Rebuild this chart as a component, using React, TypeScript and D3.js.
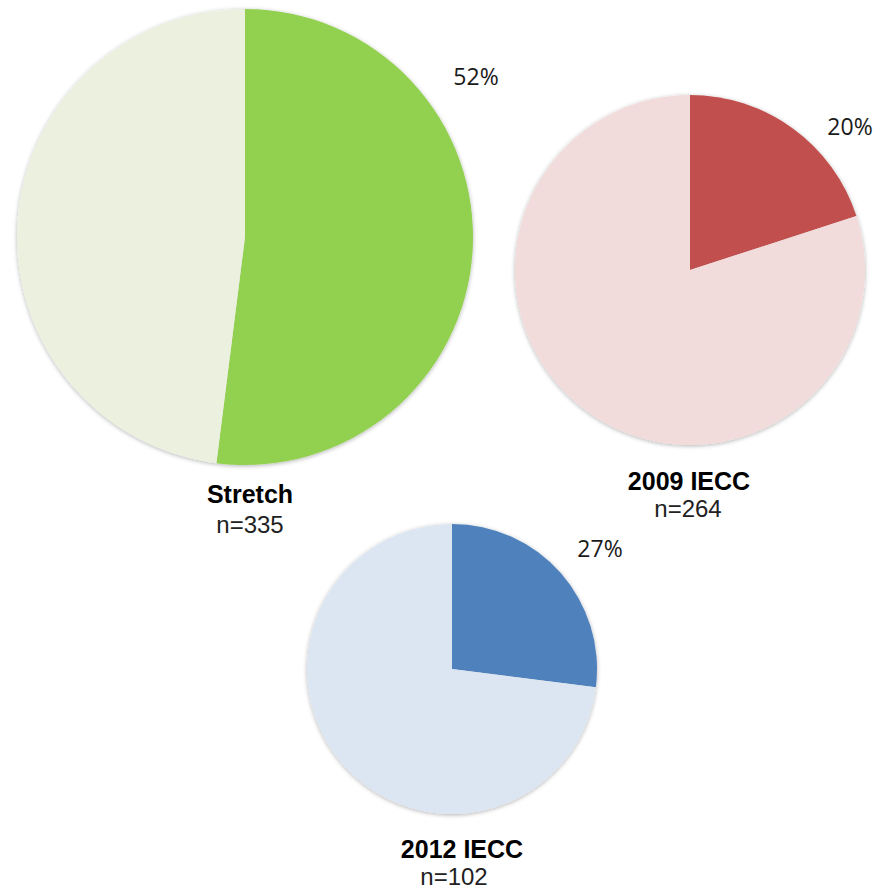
import React from "react";
import * as d3 from "d3";

const pieNames = ["Stretch", "2009 IECC", "2012 IECC"];
const pieCounts = ["n=335", "n=264", "n=102"];
const highlightShares = [52, 20, 27];
const highlightColors = ["#92d050", "#c0504d", "#4f81bd"];
const baseColors = ["#ebf1de", "#f2dcdb", "#dce6f2"];

// layout (not data)
const centers = [
  { cx: 245, cy: 237, r: 228, pct: [476, 85], title: [250, 503], n: [250, 533] },
  { cx: 690, cy: 270, r: 175, pct: [850, 135], title: [689, 490], n: [688, 517] },
  { cx: 452, cy: 669, r: 145, pct: [600, 557], title: [462, 858], n: [454, 885] },
];

export default function App() {
  const pie = d3.pie<number>().sort(null).value((d) => d);
  return (
    <svg
      width={880}
      height={891}
      style={{ position: "absolute", left: 0, top: 0, background: "#fff" }}
    >
      <defs>
        <filter id="sh" x="-10%" y="-10%" width="120%" height="120%">
          <feDropShadow dx="0" dy="1" stdDeviation="2" floodColor="#000" floodOpacity="0.3" />
        </filter>
      </defs>
      {pieNames.map((name, i) => {
        const c = centers[i];
        const vals = [highlightShares[i], 100 - highlightShares[i]];
        const arcs = pie(vals);
        const arc = d3.arc<d3.PieArcDatum<number>>().innerRadius(0).outerRadius(c.r);
        const cols = [highlightColors[i], baseColors[i]];
        return (
          <g key={name}>
            <g transform={`translate(${c.cx},${c.cy})`} filter="url(#sh)">
              {arcs.map((a, j) => (
                <path key={j} d={arc(a) || ""} fill={cols[j]} />
              ))}
            </g>
            <text
              x={c.pct[0]}
              y={c.pct[1]}
              textAnchor="middle"
              fontFamily="'Open Sans', 'Liberation Sans', sans-serif"
              fontSize={23}
              fill="#1a1a1a"
            >
              {highlightShares[i]}%
            </text>
            <text
              x={c.title[0]}
              y={c.title[1]}
              textAnchor="middle"
              fontFamily="'Liberation Sans', Arial, sans-serif"
              fontWeight="bold"
              fontSize={25}
              fill="#000"
            >
              {name}
            </text>
            <text
              x={c.n[0]}
              y={c.n[1]}
              textAnchor="middle"
              fontFamily="'Liberation Sans', Arial, sans-serif"
              fontSize={24}
              fill="#222"
            >
              {pieCounts[i]}
            </text>
          </g>
        );
      })}
    </svg>
  );
}
